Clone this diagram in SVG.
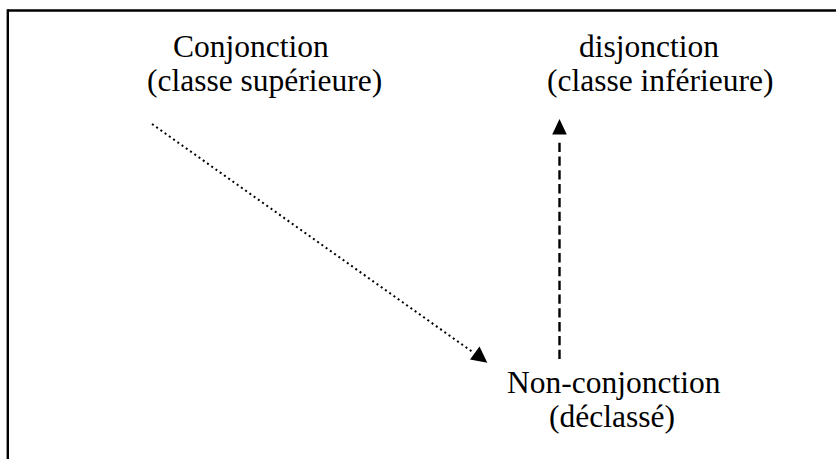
<svg xmlns="http://www.w3.org/2000/svg" width="837" height="459" viewBox="0 0 837 459">
<style>
.lbl{font-family:"Liberation Serif","Times New Roman",serif;font-size:31.5px;fill:#000}
.frame{stroke:#000;stroke-width:2.4;fill:none}
.dotted{stroke:#000;stroke-width:2;stroke-dasharray:2 3.2;fill:none}
.dashed{stroke:#000;stroke-width:2.4;stroke-dasharray:9.3 4.5;fill:none}
.head{fill:#000}
</style>
<rect width="837" height="459" fill="#fff"/>
<g id="frame">
<line class="frame" x1="7.8" y1="10.5" x2="836" y2="10.5"/>
<line class="frame" x1="7.8" y1="9.3" x2="7.8" y2="459"/>
</g>
<g id="node-conjonction">
<text class="lbl" x="173" y="57">Conjonction</text>
<text class="lbl" x="147" y="91">(classe supérieure)</text>
</g>
<g id="node-disjonction">
<text class="lbl" x="579" y="57">disjonction</text>
<text class="lbl" x="547" y="91">(classe inférieure)</text>
</g>
<g id="node-nonconjonction">
<text class="lbl" x="507" y="393">Non-conjonction</text>
<text class="lbl" x="549" y="427">(déclassé)</text>
</g>
<g id="connectors">
<line class="dotted" x1="152" y1="124" x2="474" y2="353"/>
<polygon class="head" points="487.3,362.7 470,359.5 479.5,346.5"/>
<line class="dashed" x1="559.5" y1="359" x2="559.5" y2="142.7"/>
<polygon class="head" points="559.5,119 552.2,134.5 566.8,134.5"/>
</g>
</svg>
